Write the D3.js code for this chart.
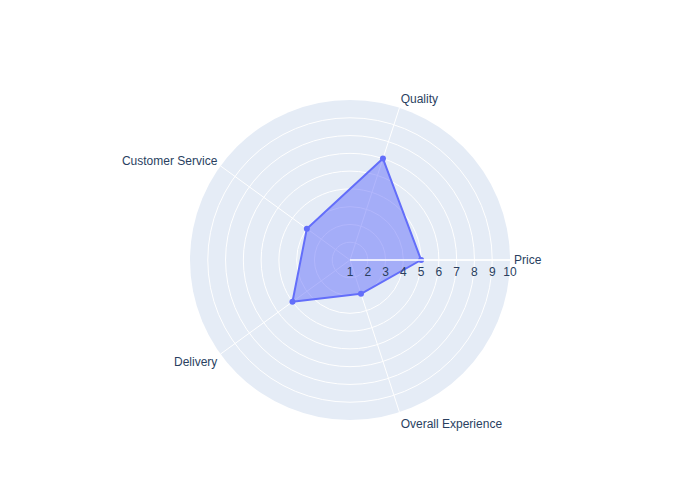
<!DOCTYPE html>
<html>
<head>
<meta charset="utf-8">
<script src="https://cdn.jsdelivr.net/npm/d3@7"></script>
<style>
  body { margin: 0; background: #fff; }
  text { font-family: Arial, "Liberation Sans", sans-serif; }
</style>
</head>
<body>
<svg id="chart" width="700" height="500"></svg>
<script>
const categories = ["Price", "Quality", "Customer Service", "Delivery", "Overall Experience"];
const values = [5, 7, 4, 5, 3];
const radialTicks = [1, 2, 3, 4, 5, 6, 7, 8, 9, 10];
const radialRange = [1, 10];

const svg = d3.select("#chart");
const cx = 350, cy = 260, R = 160;
const textColor = "#2a3f5f";

const r = d3.scaleLinear().domain(radialRange).range([0, R]);
// categories evenly spaced, counterclockwise starting at 0 deg
const angStep = 360 / categories.length;
const angOf = c => categories.indexOf(c) * angStep * Math.PI / 180;
const pt = (c, v) => [cx + r(v) * Math.cos(angOf(c)), cy - r(v) * Math.sin(angOf(c))];

const g = svg.append("g");

// background
g.append("circle").attr("cx", cx).attr("cy", cy).attr("r", R).attr("fill", "#E5ECF6");

// radial grid circles
g.selectAll(".rgrid").data(radialTicks.filter(t => t > radialRange[0] && t < radialRange[1]))
  .enter().append("circle")
  .attr("cx", cx).attr("cy", cy).attr("r", d => r(d))
  .attr("fill", "none").attr("stroke", "#fff").attr("stroke-width", 1);

// angular grid lines
g.selectAll(".agrid").data(categories).enter().append("line")
  .attr("x1", cx).attr("y1", cy)
  .attr("x2", d => pt(d, radialRange[1])[0]).attr("y2", d => pt(d, radialRange[1])[1])
  .attr("stroke", "#fff").attr("stroke-width", 1);

// trace
const lineGen = d3.line().curve(d3.curveLinearClosed);
const pts = categories.map((c, i) => pt(c, values[i]));
g.append("path").attr("d", lineGen(pts))
  .attr("fill", "rgba(99,110,250,0.5)").attr("stroke", "#636efa").attr("stroke-width", 2)
  .attr("stroke-linejoin", "round");
g.selectAll(".pt").data(pts).enter().append("circle")
  .attr("cx", d => d[0]).attr("cy", d => d[1]).attr("r", 3).attr("fill", "#636efa");

// radial axis line (above traces)
g.append("line").attr("x1", cx).attr("y1", cy).attr("x2", cx + R).attr("y2", cy)
  .attr("stroke", "rgba(255,255,255,0.75)").attr("stroke-width", 2);

// radial tick labels
g.selectAll(".rtick").data(radialTicks).enter().append("text")
  .attr("x", d => cx + r(d)).attr("y", cy + 15.5)
  .attr("text-anchor", "middle").attr("font-size", 12).attr("fill", textColor)
  .text(d => d);

// angular labels
g.selectAll(".alabel").data(categories).enter().append("text")
  .each(function(d) {
    const a = angOf(d);
    const c = Math.cos(a), s = Math.sin(a);
    const x = cx + (R + 4) * c;
    const y = cy - (R + 4) * s - s * 7;
    const anchor = Math.abs(c) < 0.05 ? "middle" : (c > 0 ? "start" : "end");
    d3.select(this).attr("x", x).attr("y", y + 3.5 + (s > 0.1 ? 2.5 : (s < -0.1 ? 1.5 : 0))).attr("text-anchor", anchor);
  })
  .attr("font-size", 12).attr("fill", textColor)
  .text(d => d);
</script>
</body>
</html>
